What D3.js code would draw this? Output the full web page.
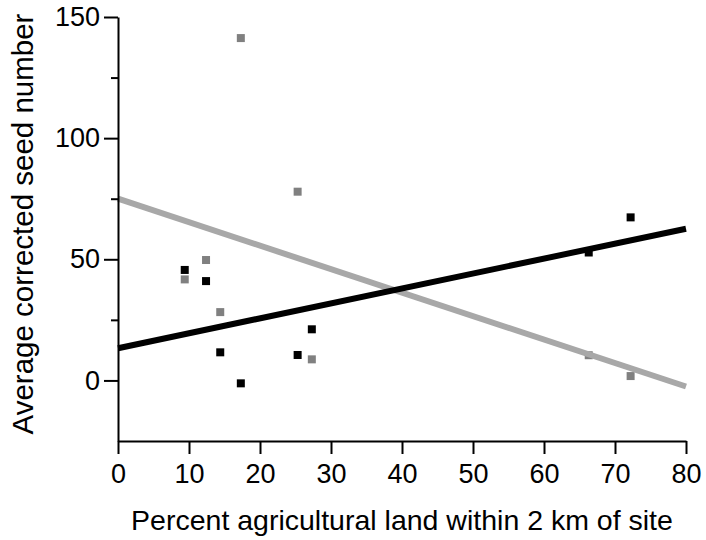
<!DOCTYPE html>
<html>
<head>
<meta charset="utf-8">
<script src="https://cdn.jsdelivr.net/npm/d3@7"></script>
<style>
  body { margin: 0; background: #fff; }
  text { font-family: "Liberation Sans", Arial, sans-serif; }
</style>
</head>
<body>
<script>
// site x values (percent agricultural land)
var sites = [9.4, 12.4, 14.4, 17.3, 25.3, 27.3, 66.3, 72.2];
// average corrected seed number per site, two series
var blackSeeds = [45.6, 41.0, 11.6, -1.2, 10.5, 21.1, 52.8, 67.3];
var graySeeds = [41.7, 49.7, 28.2, 141.3, 77.9, 8.7, 10.4, 1.8];
// fitted lines, [x, y] at both ends
var blackFit = [[0, 13.3], [80, 62.6]];
var grayFit = [[0, 75.0], [80, -2.5]];
// axis ticks
var xTicks = [0, 10, 20, 30, 40, 50, 60, 70, 80];
var yTicks = [0, 50, 100, 150];
var yMinor = [25, 75, 125];

var w = 706, h = 540;
var svg = d3.select("body").append("svg")
    .attr("width", w)
    .attr("height", h);

var x = d3.scaleLinear().domain([0, 80]).range([118, 686]);
var y = d3.scaleLinear().domain([-25, 150]).range([441, 17]);

//points first, lines go on top
var blackPts = sites.map(function(s, i){ return [s, blackSeeds[i]]; });
var grayPts = sites.map(function(s, i){ return [s, graySeeds[i]]; });
var sq = 8;

svg.selectAll(".grayPt")
    .data(grayPts)
    .enter()
    .append("rect")
    .attr("class", "grayPt")
    .attr("x", function(d){ return x(d[0]) - sq / 2; })
    .attr("y", function(d){ return y(d[1]) - sq / 2; })
    .attr("width", sq)
    .attr("height", sq)
    .style("fill", "#808080");

svg.selectAll(".blackPt")
    .data(blackPts)
    .enter()
    .append("rect")
    .attr("class", "blackPt")
    .attr("x", function(d){ return x(d[0]) - sq / 2; })
    .attr("y", function(d){ return y(d[1]) - sq / 2; })
    .attr("width", sq)
    .attr("height", sq)
    .style("fill", "#000");

var line = d3.line()
    .x(function(d){ return x(d[0]); })
    .y(function(d){ return y(d[1]); });

svg.append("path")
    .datum(grayFit)
    .attr("d", line)
    .style("fill", "none")
    .style("stroke", "#a8a8a8")
    .style("stroke-width", 6);

svg.append("path")
    .datum(blackFit)
    .attr("d", line)
    .style("fill", "none")
    .style("stroke", "#000")
    .style("stroke-width", 6);

//axes
svg.append("g")
    .attr("transform", "translate(118,0)")
    .call(d3.axisLeft(y).tickValues(yTicks).tickSize(14).tickSizeOuter(0).tickPadding(4));

svg.append("g")
    .attr("transform", "translate(118,0)")
    .call(d3.axisLeft(y).tickValues(yMinor).tickSize(7).tickSizeOuter(0).tickFormat(""))
    .select(".domain").remove();

svg.append("g")
    .attr("transform", "translate(0,441)")
    .call(d3.axisBottom(x).tickValues(xTicks).tickSize(13).tickSizeOuter(0).tickPadding(10));

svg.selectAll(".domain, .tick line")
    .style("stroke", "#000")
    .style("stroke-width", 2);

svg.selectAll(".tick text")
    .style("font-size", "27px")
    .style("fill", "#000");

//axis titles
svg.append("text")
    .attr("text-anchor", "middle")
    .attr("x", 402)
    .attr("y", 530)
    .style("font-size", "28.5px")
    .text("Percent agricultural land within 2 km of site");

svg.append("text")
    .attr("text-anchor", "middle")
    .attr("transform", "translate(33,224) rotate(-90)")
    .style("font-size", "29.5px")
    .text("Average corrected seed number");
</script>
</body>
</html>
